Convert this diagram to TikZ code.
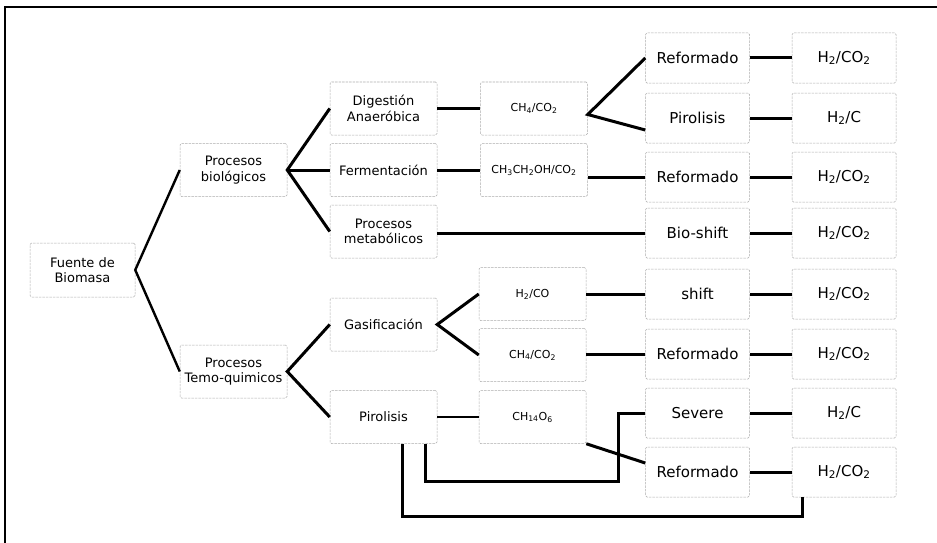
\documentclass[tikz,border=0pt]{standalone}
\usepackage{fontspec}
\setmainfont{DejaVu Sans}
\tikzset{
  box/.style={draw=gray!65, dash pattern=on 2.5pt off 1pt, line width=0.5pt, rounded corners=1.5pt,
    align=center, inner sep=1pt, minimum height=#1},
  box/.default=53pt,
  sm/.style={box, minimum width=107pt, font=\fontsize{13}{15.5}\selectfont},
  ch/.style={box, minimum width=107pt, font=\fontsize{11}{13}\selectfont},
  lg/.style={box=50pt, minimum width=104pt, font=\fontsize{15}{18}\selectfont},
  con/.style={line width=3pt},
  mid con/.style={line width=2.4pt},
  thin con/.style={line width=1.6pt},
  frame/.style={line width=1.3pt}
}
\begin{document}
\begin{tikzpicture}[x=1pt,y=-1pt]
\useasboundingbox (0,0) rectangle (937,543);
\draw[frame] (5,545) -- (5,7) -- (937,7);
% column 1-2
\node[sm, minimum width=105pt, minimum height=54pt] (fb) at (82.5,270) {Fuente de\\Biomasa};
\node[sm] (pb) at (233.5,170) {Procesos\\biológicos};
\node[sm] (pt) at (233.5,371.5) {Procesos\\Temo-quimicos};
\node[sm] (da) at (383.5,108.5) {Digestión\\Anaeróbica};
\node[sm] (fe) at (383.5,170) {Fermentación};
\node[sm] (pm) at (383.5,231.5) {Procesos\\metabólicos};
\node[sm] (ga) at (383.5,324.5) {Gasificación};
\node[sm] (pi) at (383.5,417) {Pirolisis};
% chemical column
\node[ch] (c1) at (534,108.5) {CH\textsubscript{4}/CO\textsubscript{2}};
\node[ch] (c2) at (534,170) {CH\textsubscript{3}CH\textsubscript{2}OH/CO\textsubscript{2}};
\node[ch] (c3) at (532.5,294) {H\textsubscript{2}/CO};
\node[ch] (c4) at (532.5,355) {CH\textsubscript{4}/CO\textsubscript{2}};
\node[ch] (c5) at (532.5,417) {CH\textsubscript{14}O\textsubscript{6}};
% column 3
\node[lg] (r1) at (697.5,58) {Reformado};
\node[lg] (r2) at (697.5,118) {Pirolisis};
\node[lg] (r3) at (697.5,177) {Reformado};
\node[lg] (r4) at (697.5,233) {Bio-shift};
\node[lg] (r5) at (697.5,294) {shift};
\node[lg] (r6) at (697.5,354) {Reformado};
\node[lg] (r7) at (697.5,413) {Severe};
\node[lg] (r8) at (697.5,472) {Reformado};
% column 4
\node[lg] (h1) at (844,58) {H\textsubscript{2}/CO\textsubscript{2}};
\node[lg] (h2) at (844,118) {H\textsubscript{2}/C};
\node[lg] (h3) at (844,177) {H\textsubscript{2}/CO\textsubscript{2}};
\node[lg] (h4) at (844,233) {H\textsubscript{2}/CO\textsubscript{2}};
\node[lg] (h5) at (844,294) {H\textsubscript{2}/CO\textsubscript{2}};
\node[lg] (h6) at (844,354) {H\textsubscript{2}/CO\textsubscript{2}};
\node[lg] (h7) at (844,413) {H\textsubscript{2}/C};
\node[lg] (h8) at (844,472) {H\textsubscript{2}/CO\textsubscript{2}};
% connectors
\draw[mid con] (pb.west) -- (fb.east) -- (pt.west);
\draw[con] (da.west) -- (pb.east) -- (pm.west);
\draw[con] (pb.east) -- (fe.west);
\draw[con] (ga.west) -- (pt.east) -- (pi.west);
\draw[con] (da) -- (c1);
\draw[con] (fe) -- (c2);
\draw[con] (pm.east |- r4.west) -- (r4.west);
\draw[con] (c3.west) -- (ga.east) -- (c4.west);
\draw[thin con] (pi.east) -- (c5.west);
\draw[con] (r1.west) -- ([yshift=-6pt]c1.east) -- ([yshift=-12pt]r2.west);
\draw[con] (c2.east |- r3.west) -- (r3.west);
\draw[con] (c3.east) -- (r5.west);
\draw[con] (c4.east |- r6.west) -- (r6.west);
\draw[con] (c5.south east) -- ([yshift=9pt]r8.west);
\coordinate (k1) at (618,481);
\coordinate (k2) at (802,516);
\draw[con] ([xshift=41.5pt]pi.south) |- (k1) |- (r7.west);
\draw[con] ([xshift=18.5pt]pi.south) |- (k2) -- (k2 |- h8.south);
\foreach \i in {1,...,8} \draw[con] (r\i.east) -- (h\i.west);
\end{tikzpicture}
\end{document}
